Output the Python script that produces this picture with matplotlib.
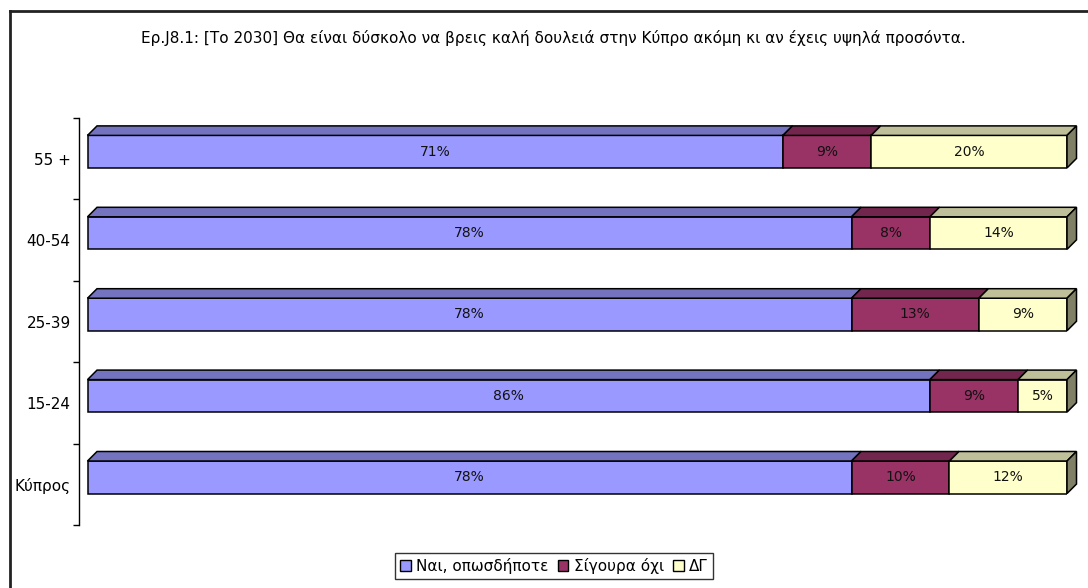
import matplotlib
matplotlib.use('Agg')
import matplotlib.pyplot as plt
from matplotlib.patches import Polygon, Rectangle
from matplotlib.lines import Line2D
import matplotlib.colors as mcolors
import numpy as np

categories = ['Κύπρος', '15-24', '25-39', '40-54', '55 +']
nai = [78, 86, 78, 78, 71]
sigoura_oxi = [10, 9, 13, 8, 9]
dg = [12, 5, 9, 14, 20]
series_names = ['Ναι, οπωσδήποτε', 'Σίγουρα όχι', 'ΔΓ']
colors = ['#9999FF', '#993366', '#FFFFCC']
title = ('Ερ.J8.1: [Το 2030] Θα είναι δύσκολο να βρεις καλή δουλειά '
         'στην Κύπρο ακόμη κι αν έχεις υψηλά προσόντα.')

plt.rcParams['font.family'] = ['DejaVu Sans']

W, H = 1088, 588
fig = plt.figure(figsize=(W / 100, H / 100), dpi=100)
ax = fig.add_axes([79 / W, (H - 525) / H, (1067 - 79) / W, (525 - 118) / H])
ax.set_xlim(-0.87, 100)
ax.set_ylim(-0.5, 4.5)


def shade(c, f):
    r, g, b = mcolors.to_rgb(c)
    return (r * f, g * f, b * f)


# 3d look: depth offsets in data units
dx = 0.97
dy = 0.117
bar_h = 0.40
off = 0.086

series = [nai, sigoura_oxi, dg]
for i in range(len(categories)):
    yc = i + off
    bot = yc - bar_h / 2
    top = yc + bar_h / 2
    left = 0
    for s, vals in enumerate(series):
        w = vals[i]
        ax.barh(yc, w, left=left, height=bar_h, color=colors[s],
                edgecolor='black', linewidth=1.1, zorder=3)
        ax.add_patch(Polygon([(left, top), (left + dx, top + dy),
                              (left + w + dx, top + dy), (left + w, top)],
                             closed=True, facecolor=shade(colors[s], 0.75),
                             edgecolor='black', linewidth=1.1,
                             clip_on=False, zorder=3))
        ax.text(left + w / 2, yc, f'{w}%', ha='center', va='center',
                fontsize=10, color='#111111', zorder=4)
        left += w
    ax.add_patch(Polygon([(left, bot), (left, top), (left + dx, top + dy),
                          (left + dx, bot + dy)],
                         closed=True, facecolor=shade(colors[-1], 0.5),
                         edgecolor='black', linewidth=1.1,
                         clip_on=False, zorder=3))

ax.set_yticks(np.arange(-0.5, 5, 1))
ax.set_yticklabels([])
ax.set_yticks(range(len(categories)), minor=True)
ax.set_yticklabels(categories, minor=True, fontsize=11)
ax.tick_params(axis='y', which='major', length=4, width=1, direction='out')
ax.tick_params(axis='y', which='minor', length=0, pad=6)
ax.set_xticks([])
for side in ['top', 'right', 'bottom']:
    ax.spines[side].set_visible(False)
ax.spines['left'].set_linewidth(1)
ax.patch.set_alpha(0)

fig.text(553 / W, 1 - 38 / H, title, ha='center', va='center', fontsize=11)

handles = [Rectangle((0, 0), 1, 1, facecolor=c, edgecolor='black', linewidth=1)
           for c in colors]
leg = fig.legend(handles, series_names, ncol=3, loc='center',
                 bbox_to_anchor=(554 / W, 1 - 566 / H), fontsize=11,
                 frameon=True, fancybox=False, edgecolor='black',
                 handlelength=0.7, handleheight=0.7, handletextpad=0.35,
                 columnspacing=0.6, borderpad=0.35, borderaxespad=0)
leg.get_frame().set_linewidth(1)

# outer chart frame (only top and left edges visible)
fig.add_artist(Line2D([10 / W, 1], [1 - 11 / H, 1 - 11 / H],
                      color='#222222', linewidth=2))
fig.add_artist(Line2D([10 / W, 10 / W], [0, 1 - 11 / H],
                      color='#222222', linewidth=2))

fig.savefig('out.png', dpi=100)
